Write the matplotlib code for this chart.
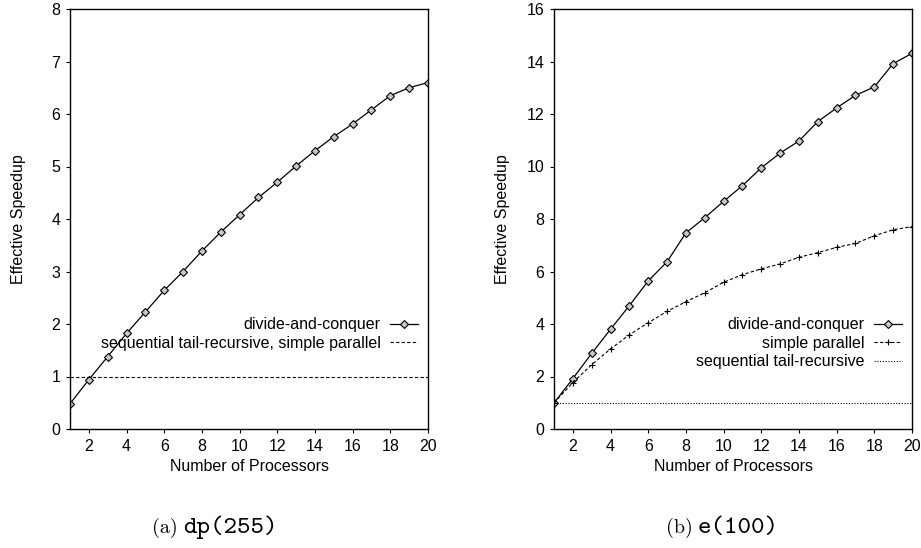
import matplotlib
matplotlib.use("Agg")
import matplotlib.pyplot as plt

plt.rcParams['font.family'] = ['Liberation Sans', 'DejaVu Sans']

procs = list(range(1, 21))

# (a) dp(255)
dp_dc = [0.48, 0.94, 1.38, 1.82, 2.23, 2.64, 3.00, 3.39, 3.75, 4.08,
         4.41, 4.70, 5.01, 5.30, 5.57, 5.81, 6.08, 6.35, 6.50, 6.60]
dp_seq = [1.0] * 20

# (b) e(100)
e_dc = [0.99, 1.92, 2.88, 3.80, 4.70, 5.64, 6.37, 7.47, 8.05, 8.67,
        9.27, 9.95, 10.51, 10.97, 11.71, 12.23, 12.71, 13.03, 13.92, 14.31]
e_sp = [0.99, 1.77, 2.45, 3.05, 3.59, 4.05, 4.48, 4.85, 5.19, 5.59,
        5.88, 6.10, 6.29, 6.54, 6.72, 6.92, 7.07, 7.36, 7.59, 7.71]
e_seq = [1.0] * 20

xticks = [2, 4, 6, 8, 10, 12, 14, 16, 18, 20]

fig = plt.figure(figsize=(9.21, 5.48), dpi=100)
W, H = 921, 548
axA = fig.add_axes([70 / W, (H - 429) / H, 358 / W, 420 / H])
axB = fig.add_axes([554 / W, (H - 429) / H, 358 / W, 420 / H])

mk = dict(marker='D', markersize=3.6, markerfacecolor='#c8c8c8',
          markeredgecolor='black', markeredgewidth=0.8)

axA.plot(procs, dp_dc, color='black', lw=0.9, label='divide-and-conquer', **mk)
axA.plot(procs, dp_seq, color='black', lw=0.8, linestyle=(0, (3, 2)),
         label='sequential tail-recursive, simple parallel')
axA.set_ylim(0, 8)
axA.set_yticks(range(0, 9))

axB.plot(procs, e_dc, color='black', lw=0.9, label='divide-and-conquer', **mk)
axB.plot(procs, e_sp, color='black', lw=0.8, linestyle=(0, (3, 2)),
         marker='+', markersize=5, markeredgewidth=0.8, label='simple parallel')
axB.plot(procs, e_seq, color='black', lw=0.8, linestyle=(0, (1, 1.5)),
         label='sequential tail-recursive')
axB.set_ylim(0, 16)
axB.set_yticks(range(0, 17, 2))

for ax in (axA, axB):
    ax.set_xlim(1, 20)
    ax.set_xticks(xticks)
    ax.tick_params(direction='out', length=3, width=0.8, labelsize=11.5,
                   colors='black')
    ax.tick_params(axis='x', pad=4.5)
    ax.tick_params(axis='y', pad=4)
    for s in ax.spines.values():
        s.set_linewidth(1.0)
    ax.set_xlabel('Number of Processors', fontsize=11.5)
    ax.set_ylabel('Effective Speedup', fontsize=11.5)
    ax.xaxis.set_label_coords(0.5, -0.071)
    ax.yaxis.set_label_coords(-0.1425, 0.5)
    ax.yaxis.label.set_va('center')
    leg = ax.legend(loc='upper right', bbox_to_anchor=(0.972, 0.266),
                    frameon=False, markerfirst=False, fontsize=11.5,
                    handlelength=1.75, handletextpad=0.6, labelspacing=0.22,
                    borderaxespad=0.0, borderpad=0.0)
    for t in leg.get_texts():
        t.set_ha('right')

yb = 1 - 533 / H
fig.text(152 / W, yb, '(a)', family='cmr10', fontsize=14.5, ha='left', va='baseline')
fig.text(183 / W, yb, 'dp(255)', family='cmtt10', fontsize=18.5, ha='left', va='baseline')
fig.text(666 / W, yb, '(b)', family='cmr10', fontsize=14.5, ha='left', va='baseline')
fig.text(698 / W, yb, 'e(100)', family='cmtt10', fontsize=18.5, ha='left', va='baseline')

fig.savefig('out.png', dpi=100)
